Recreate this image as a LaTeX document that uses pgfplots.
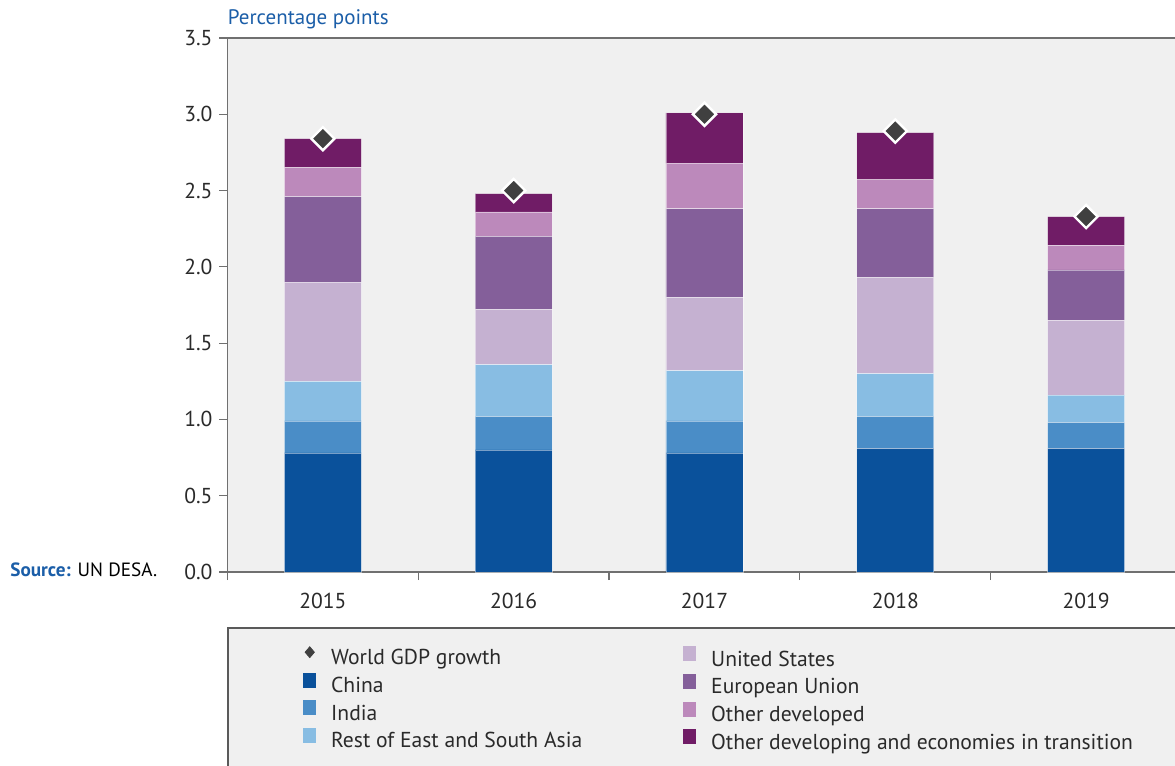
\documentclass[border=0pt]{standalone}
\usepackage{fontspec}
\setmainfont{PT Sans}
\usepackage{pgfplots}
\usepackage{pgfplotstable}
\pgfplotsset{compat=1.18}

\definecolor{cChina}{HTML}{0A519B}
\definecolor{cIndia}{HTML}{4A8DC7}
\definecolor{cRest}{HTML}{88BDE3}
\definecolor{cUS}{HTML}{C5B1D1}
\definecolor{cEU}{HTML}{845F9A}
\definecolor{cOthDev}{HTML}{BC89BB}
\definecolor{cOthDevg}{HTML}{701C66}
\definecolor{cWorld}{HTML}{404040}
\definecolor{plotbg}{HTML}{F0F0F0}
\definecolor{axisgray}{HTML}{707070}
\definecolor{txtgray}{HTML}{2A2A2A}
\definecolor{undblue}{HTML}{1B5EA8}

% contributions to world gross product growth, percentage points
\pgfplotstableread{
x China India Rest US EU OthDev OthDevg World
0 0.78 0.21 0.26 0.65 0.56 0.19 0.19 2.84
1 0.80 0.22 0.34 0.36 0.48 0.16 0.12 2.50
2 0.78 0.21 0.33 0.48 0.58 0.30 0.33 3.00
3 0.81 0.21 0.28 0.63 0.45 0.19 0.31 2.89
4 0.81 0.17 0.18 0.49 0.33 0.16 0.19 2.33
}\contrib

\newcommand\barleg[1]{\addlegendimage{legend image code/.code={\fill[#1] (0pt,0pt) rectangle (6pt,7pt);}}}

\pgfplotsset{
  common/.style={
    at={(0,0)}, anchor=south west, scale only axis,
    width=477pt, height=267pt,
    xmin=-0.5, xmax=4.5, ymin=0, ymax=3.5,
  },
  leg/.style={
    legend cell align=left,
    legend style={at={(#1,-0.1386)}, anchor=north west, draw=none, fill=none,
      inner sep=0pt, row sep=1.35pt, font=\fontsize{10.8}{12}\selectfont, text=txtgray,
      nodes={inner sep=0pt, text height=8pt, text depth=2.5pt},
      /tikz/column 1/.style={column sep=7.5pt}},
  },
  seg/.style={fill=#1, draw=white, draw opacity=0.45, line width=0.4pt, forget plot},
}

\begin{document}
\begin{tikzpicture}
\path[use as bounding box] (-113.75pt,-97pt) rectangle (473.75pt,286pt);

% legend panel
\fill[plotbg] (0.3pt,-28pt) rectangle (480pt,-100pt);
\draw[axisgray!80!black, line width=0.6pt] (0.3pt,-100pt) -- (0.3pt,-28pt) -- (480pt,-28pt);

\begin{axis}[common, leg=0.0791,
  ybar stacked, bar width=38.5pt,
  axis background/.style={fill=plotbg},
  axis line style={draw=axisgray, line width=0.6pt},
  tick style={draw=axisgray, line width=0.6pt},
  tick align=outside, major tick length=4pt, minor tick length=4pt,
  ytick={0,0.5,1,1.5,2,2.5,3,3.5}, ytick pos=left,
  xtick={0,1,2,3,4}, xticklabels={2015,2016,2017,2018,2019}, xtick pos=bottom,
  minor xtick={-0.5,0.5,1.5,2.5,3.5},
  every major x tick/.style={draw=none},
  yticklabel style={/pgf/number format/.cd, fixed, fixed zerofill, precision=1},
  /pgf/number format/assume math mode=true,
  tick label style={font=\fontsize{10.8}{12}\selectfont, text=txtgray},
  xticklabel style={yshift=-3pt},
]
\addplot[seg=cChina] table[x=x,y=China]{\contrib};
\addplot[seg=cIndia] table[x=x,y=India]{\contrib};
\addplot[seg=cRest] table[x=x,y=Rest]{\contrib};
\addplot[seg=cUS] table[x=x,y=US]{\contrib};
\addplot[seg=cEU] table[x=x,y=EU]{\contrib};
\addplot[seg=cOthDev] table[x=x,y=OthDev]{\contrib};
\addplot[seg=cOthDevg] table[x=x,y=OthDevg]{\contrib};

\addlegendimage{legend image code/.code={\fill[cWorld] (3pt,0.9pt) -- (5.3pt,3.6pt) -- (3pt,6.3pt) -- (0.7pt,3.6pt) -- cycle;}}
\addlegendentry{World GDP growth}
\barleg{cChina}\addlegendentry{China}
\barleg{cIndia}\addlegendentry{India}
\barleg{cRest}\addlegendentry{Rest of East and South Asia}
\end{axis}

\begin{axis}[common, leg=0.4775, hide axis, clip=false]
\addplot[only marks, mark=square*, mark size=4.1pt,
  mark options={rotate=45, fill=cWorld, draw=white, line width=1.2pt}, forget plot]
  table[x=x,y=World]{\contrib};
\barleg{cUS}\addlegendentry{United States}
\barleg{cEU}\addlegendentry{European Union}
\barleg{cOthDev}\addlegendentry{Other developed}
\barleg{cOthDevg}\addlegendentry{Other developing and economies in transition}
\end{axis}

\node[anchor=base west, inner sep=0pt, text=undblue, font=\fontsize{10.5}{12}\selectfont] at (0pt,273.5pt) {Percentage points};
\node[anchor=base west, inner sep=0pt, font=\fontsize{9.6}{12}\selectfont] at (-108.75pt,-2.5pt) {\textcolor{undblue}{\bfseries Source:} UN DESA.};
\end{tikzpicture}
\end{document}
